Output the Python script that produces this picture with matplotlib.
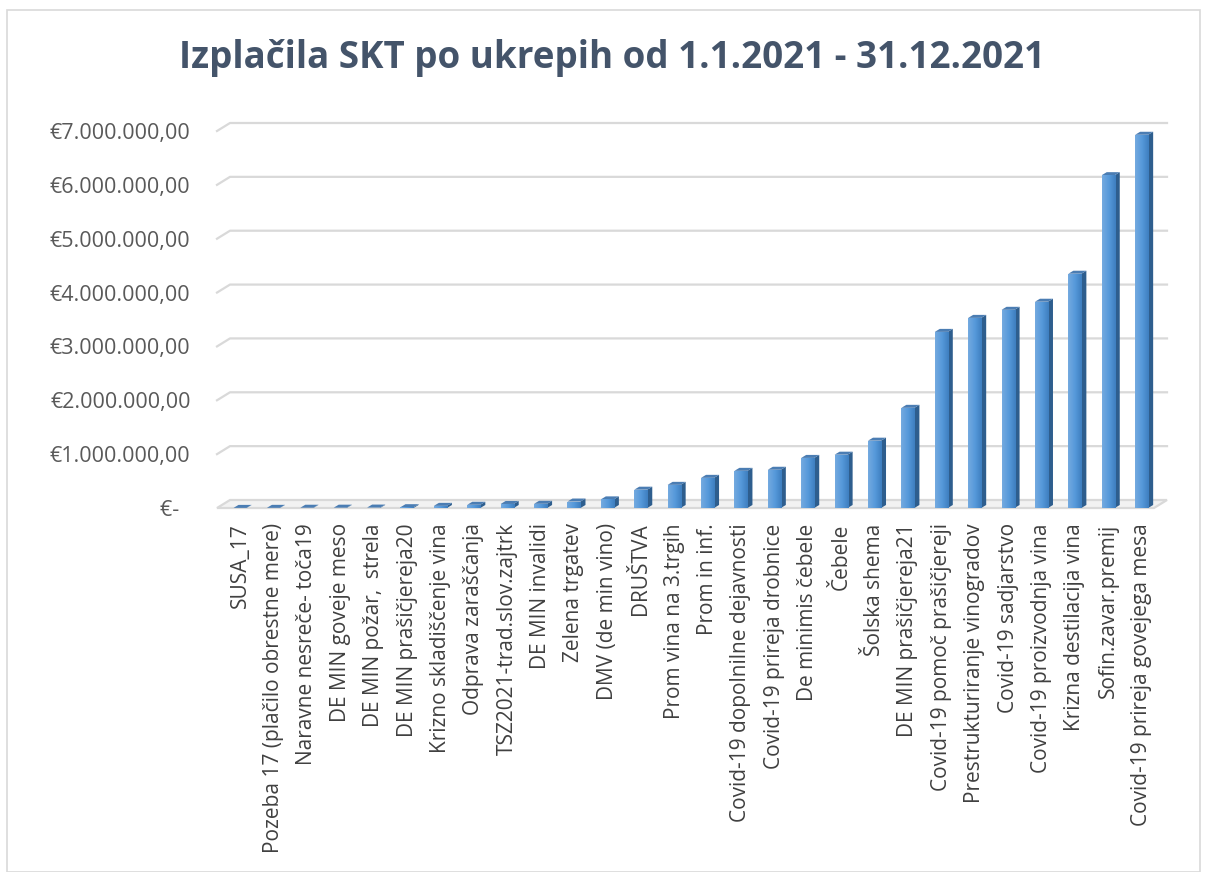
import numpy as np
import matplotlib
matplotlib.use("Agg")
import matplotlib.pyplot as plt
from matplotlib.patches import Polygon, Rectangle
from matplotlib.colors import LinearSegmentedColormap

title = "Izplačila SKT po ukrepih od 1.1.2021 - 31.12.2021"

categories = [
    "SUSA_17", "Pozeba 17 (plačilo obrestne mere)", "Naravne nesreče- toča19",
    "DE MIN goveje meso", "DE MIN požar,  strela", "DE MIN prašičjereja20",
    "Krizno skladiščenje vina", "Odprava zaraščanja", "TSZ2021-trad.slov.zajtrk",
    "DE MIN invalidi", "Zelena trgatev", "DMV (de min vino)", "DRUŠTVA",
    "Prom vina na 3.trgih", "Prom in inf.", "Covid-19 dopolnilne dejavnosti",
    "Covid-19 prireja drobnice", "De minimis čebele", "Čebele", "Šolska shema",
    "DE MIN prašičjereja21", "Covid-19 pomoč prašičjereji",
    "Prestrukturiranje vinogradov", "Covid-19 sadjarstvo",
    "Covid-19 proizvodnja vina", "Krizna destilacija vina",
    "Sofin.zavar.premij", "Covid-19 prireja govejega mesa",
]
values = [
    2000, 3000, 5000, 6000, 8000, 15000, 40000, 60000, 75000, 78000,
    120000, 160000, 340000, 430000, 560000, 690000, 710000, 930000,
    990000, 1250000, 1860000, 3270000, 3530000, 3680000, 3830000,
    4350000, 6180000, 6930000,
]
y_ticks = [0, 1e6, 2e6, 3e6, 4e6, 5e6, 6e6, 7e6]
y_tick_labels = ["€-  ", "€1.000.000,00", "€2.000.000,00", "€3.000.000,00",
                 "€4.000.000,00", "€5.000.000,00", "€6.000.000,00",
                 "€7.000.000,00"]

plt.rcParams["font.family"] = ["Open Sans", "DejaVu Sans"]

W, H = 1206, 872
fig = plt.figure(figsize=(W / 100, H / 100), dpi=100)

# chart frame
fig.patches.append(Rectangle((7 / W, 0.0), (1200 - 7) / W, 862 / H,
                             transform=fig.transFigure, fill=False,
                             edgecolor="#D9D9D9", linewidth=1.2))

left, right, bottom, top = 217, 1154, 508, 131
ax = fig.add_axes([left / W, (H - bottom) / H, (right - left) / W, (bottom - top) / H])
x = np.arange(len(categories))
xmin, xmax = -0.69, 27.37
ymax = 7e6
ax.set_xlim(xmin, xmax)
ax.set_ylim(0, ymax)

# 3D depth in data units
px_x = (xmax - xmin) / (right - left)
px_y = ymax / (bottom - top)
wall_dx, wall_dy = 13 * px_x, 8 * px_y
bar_dx, bar_dy = 5 * px_x, 3 * px_y

grid_c = "#D9D9D9"
# back wall gridlines with slanted left piece
for v in y_ticks[1:]:
    ax.plot([xmin, xmin + wall_dx, xmax + wall_dx], [v, v + wall_dy, v + wall_dy],
            color=grid_c, lw=1.6, clip_on=False, zorder=1)
# floor
floor = Polygon([(xmin, 0), (xmin + wall_dx, wall_dy), (xmax + wall_dx, wall_dy),
                 (xmax, 0)], closed=True, facecolor="#F2F2F2",
                edgecolor=grid_c, lw=1.6, clip_on=False, zorder=1)
ax.add_patch(floor)

# bars
w = 0.39
cmap = LinearSegmentedColormap.from_list("bar", ["#74AAE0", "#5699DA", "#3E7FC0"])
grad = np.linspace(0, 1, 32).reshape(1, -1)
for xi, v in zip(x, values):
    x0, x1 = xi - w / 2, xi + w / 2
    front = Rectangle((x0, 0), w, v, facecolor="#5597D8", edgecolor="none", zorder=3)
    ax.add_patch(front)
    im = ax.imshow(grad, extent=[x0, x1, 0, max(v, 1)], aspect="auto",
                   cmap=cmap, zorder=3.1, interpolation="bilinear")
    im.set_clip_path(front)
    side = Polygon([(x1, 0), (x1, v), (x1 + bar_dx, v + bar_dy), (x1 + bar_dx, bar_dy)],
                   closed=True, facecolor="#2E5E8E", edgecolor="none", zorder=3)
    ax.add_patch(side)
    cap = Polygon([(x0, v), (x1, v), (x1 + bar_dx, v + bar_dy), (x0 + bar_dx, v + bar_dy)],
                  closed=True, facecolor="#4B7DB3", edgecolor="none", zorder=3)
    ax.add_patch(cap)
ax.set_xlim(xmin, xmax)
ax.set_ylim(0, ymax)

ax.set_xticks(x)
ax.set_xticklabels(categories, rotation=90, fontsize=15, color="#404040")
ax.set_yticks(y_ticks)
ax.set_yticklabels(y_tick_labels, fontsize=15.5, color="#595959")
ax.tick_params(axis="x", length=0, pad=11)
ax.tick_params(axis="y", length=0, pad=19)
for s in ax.spines.values():
    s.set_visible(False)
ax.patch.set_visible(False)

fig.text(612 / W, 1 - 58 / H, title, ha="center", va="center",
         fontsize=26.5, fontweight="bold", color="#44546A")

fig.savefig("out.png", dpi=100, facecolor="white")
